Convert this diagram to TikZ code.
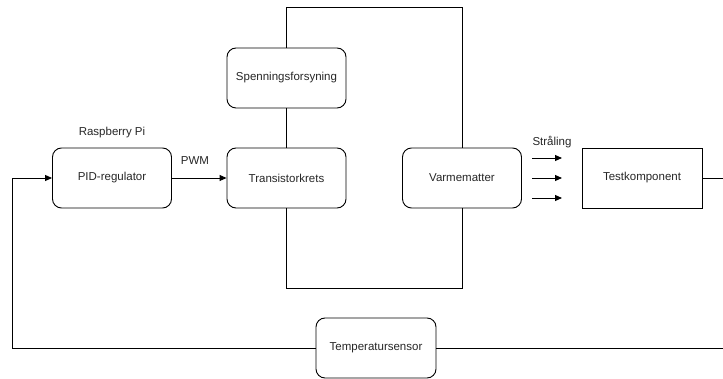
\documentclass[tikz,border=0pt]{standalone}
\usepackage{fontspec}
\setmainfont{Liberation Sans}
\usetikzlibrary{arrows.meta}
\begin{document}
\begin{tikzpicture}[x=1pt,y=-1pt,
  every node/.style={font=\fontsize{11.5}{13}\selectfont, text=black!85},
  rbox/.style={draw, line width=0.9pt, rounded corners=9pt, minimum width=119pt, minimum height=60pt, inner sep=0pt},
  sbox/.style={draw, line width=0.9pt, minimum width=120pt, minimum height=60pt, inner sep=0pt},
  conn/.style={line width=0.9pt},
  arr/.style={line width=0.9pt, -{Triangle[length=7pt,width=6pt]}},
  lbl/.style={inner sep=0pt}]
\useasboundingbox (0,0) rectangle (723,379);
\begin{scope}
\clip (0,0) rectangle (723,379);
\node[rbox] (pid) at (112,178) {PID-regulator};
\node[rbox] (tr) at (286.5,178) {Transistorkrets};
\node[rbox] (sp) at (286.5,78) {Spenningsforsyning};
\node[rbox] (vm) at (462,178) {Varmematter};
\node[sbox] (tk) at (642,178) {Testkomponent};
\node[rbox, minimum width=120pt] (ts) at (376,348) {Temperatursensor};
\node[lbl] (rpi) at (112,133) {Raspberry Pi};
\node[lbl] (pwm) at (195,161) {PWM};
\node[lbl] (str) at (552,142) {Stråling};
\coordinate (t1) at (286.5,7);
\coordinate (t2) at (462,7);
\coordinate (b1) at (286.5,288);
\coordinate (b2) at (462,288);
\coordinate (r1) at (725,178);
\coordinate (r2) at (725,348);
\coordinate (l1) at (12,348);
\coordinate (l2) at (12,178);
\coordinate (a1s) at (532,158); \coordinate (a1e) at (562,158);
\coordinate (a2s) at (532,178); \coordinate (a2e) at (562,178);
\coordinate (a3s) at (532,198); \coordinate (a3e) at (562,198);
\draw[arr] (pid) -- (tr);
\draw[conn] (sp) -- (tr);
\draw[conn] (sp.north) -- (t1) -- (t2) -- (vm.north);
\draw[conn] (tr.south) -- (b1) -- (b2) -- (vm.south);
\draw[conn] (tk.east) -- (r1) -- (r2) -- (ts.east);
\draw[arr] (ts.west) -- (l1) -- (l2) -- (pid.west);
\draw[arr] (a1s) -- (a1e);
\draw[arr] (a2s) -- (a2e);
\draw[arr] (a3s) -- (a3e);
\end{scope}
\end{tikzpicture}
\end{document}
